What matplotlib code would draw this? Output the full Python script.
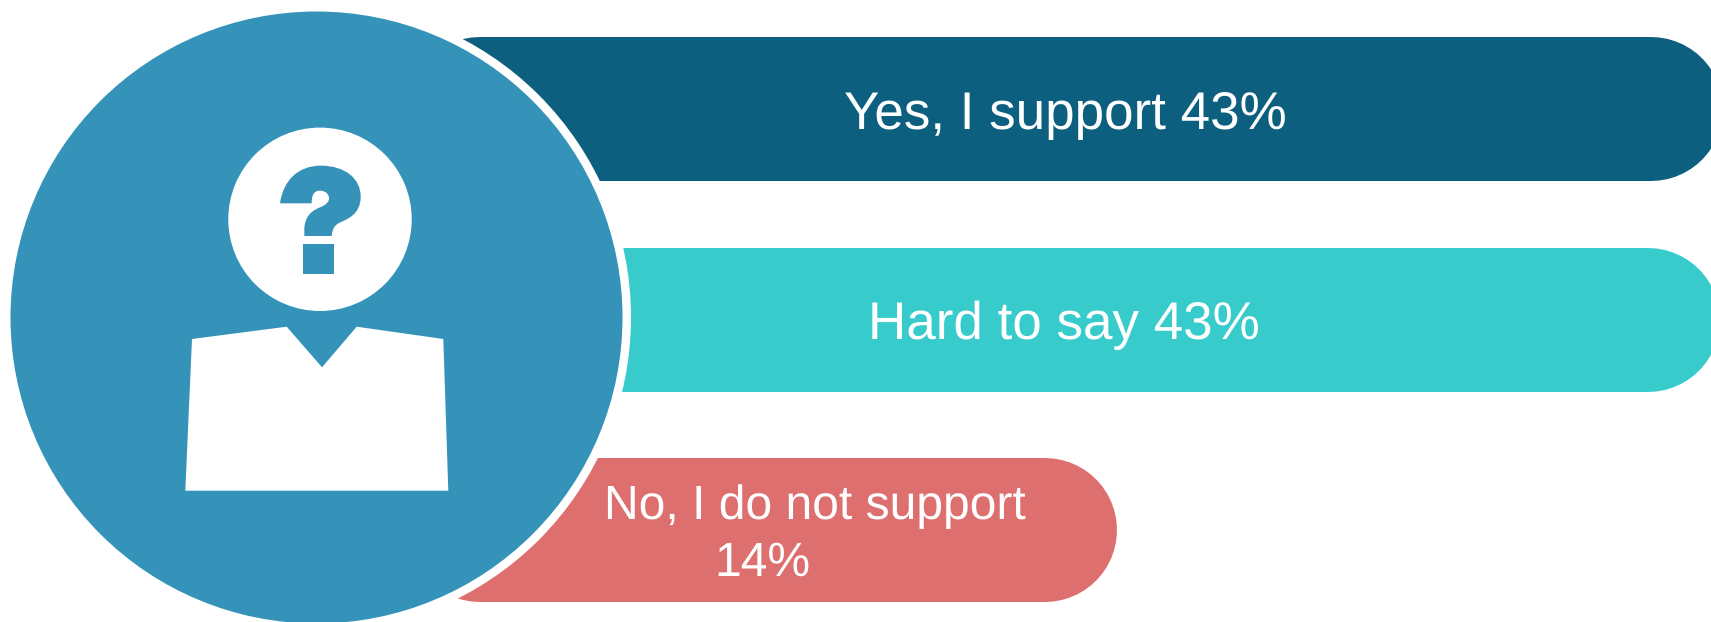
import matplotlib
matplotlib.use("Agg")
import matplotlib.pyplot as plt
from matplotlib.patches import Circle, Polygon, PathPatch, Rectangle
from matplotlib.path import Path

categories = ["Yes, I support", "Hard to say", "No, I do not support"]
shares = [43, 43, 14]
bar_colors = ["#0D5F80", "#38CBCC", "#DE6F6F"]

W, H = 1711, 622
DPI = 100
BADGE = "#3593BA"

# Percent axis: 0 % sits at pixel 824, one point spans 20.9 pixels.
PX_AT_ZERO = 824.0
PX_PER_POINT = 20.9
BAR_HEIGHT_PX = 144.0
BAR_START_PX = 408.0
bar_centres_px = [109, 320, 530]
bar_nudge_px = [0, -3, 0]


def to_share(px):
    return (px - PX_AT_ZERO) / PX_PER_POINT


plt.rcParams["font.family"] = ["Liberation Sans", "DejaVu Sans"]
plt.rcParams["text.hinting"] = "no_hinting"
plt.rcParams["text.hinting_factor"] = 1
fig = plt.figure(figsize=(W / DPI, H / DPI), dpi=DPI, facecolor="white")

# Bars live on a percent x axis; the rounded ends come from the line caps.
ax = fig.add_axes([0, 0, 1, 1])
ax.set_xlim(to_share(0), to_share(W))
ax.set_ylim(H, 0)
ax.axis("off")
radius_pts = BAR_HEIGHT_PX / 2
for value, colour, yc, nudge in zip(shares, bar_colors, bar_centres_px, bar_nudge_px):
    tip_inner = value + (nudge - radius_pts) / PX_PER_POINT
    ax.plot(
        [to_share(BAR_START_PX + radius_pts), tip_inner], [yc, yc],
        color=colour, lw=BAR_HEIGHT_PX * 72 / DPI,
        solid_capstyle="round", zorder=1,
    )

# Overlay in pixel coordinates for the badge and its figure.
ov = fig.add_axes([0, 0, 1, 1])
ov.set_xlim(0, W)
ov.set_ylim(H, 0)
ov.axis("off")
ov.patch.set_alpha(0)

ov.add_patch(Circle((316.5, 317.5), 314.5, fc="white", ec="none", zorder=2))
ov.add_patch(Circle((316.5, 317.5), 306, fc=BADGE, ec="none", zorder=3))

body = [(192, 339), (286.7, 326.7), (322, 367.3), (356.7, 326.7),
        (443.3, 339), (448.3, 490.7), (185.3, 490.7)]
ov.add_patch(Polygon(body, closed=True, fc="white", ec="none", zorder=4))
ov.add_patch(Circle((320, 219.3), 91.7, fc="white", ec="none", zorder=4))


def zoomed(x, y):
    return 150 + x / 3, 100 + y / 3


hook = [
    (Path.MOVETO, (390, 310)),
    (Path.CURVE4, (400, 240)), (Path.CURVE4, (445, 197)), (Path.CURVE4, (512, 197)),
    (Path.CURVE4, (585, 197)), (Path.CURVE4, (632, 235)), (Path.CURVE4, (632, 290)),
    (Path.CURVE4, (632, 345)), (Path.CURVE4, (590, 358)), (Path.CURVE4, (565, 370)),
    (Path.CURVE3, (547, 380)), (Path.CURVE3, (545, 408)),
    (Path.LINETO, (463, 408)),
    (Path.LINETO, (463, 385)),
    (Path.CURVE4, (465, 345)), (Path.CURVE4, (490, 330)), (Path.CURVE4, (510, 322)),
    (Path.CURVE4, (530, 314)), (Path.CURVE4, (538, 305)), (Path.CURVE4, (537, 293)),
    (Path.CURVE4, (535, 278)), (Path.CURVE4, (522, 272)), (Path.CURVE4, (510, 272)),
    (Path.CURVE4, (492, 272)), (Path.CURVE4, (485, 285)), (Path.CURVE4, (485, 310)),
    (Path.CLOSEPOLY, (390, 310)),
]
codes = [c for c, _ in hook]
verts = [zoomed(*p) for _, p in hook]
ov.add_patch(PathPatch(Path(verts, codes), fc=BADGE, ec="none", zorder=5))
dx, dy = zoomed(459, 433)
ov.add_patch(Rectangle((dx, dy), 93 / 3, 88 / 3, fc=BADGE, ec="none", zorder=5))

# Labels: the two upper bars carry a larger size than the lower one.
txt = dict(color="white", ha="center", va="baseline", zorder=6)
ov.text(1065.5, 129, f"{categories[0]} {shares[0]}%", fontsize=38.5, **txt)
ov.text(1064, 339, f"{categories[1]} {shares[1]}%", fontsize=38.5, **txt)
ov.text(815, 519, categories[2], fontsize=34.5, **txt)
ov.text(762, 576, f"{shares[2]}%", fontsize=34.5, **txt)

fig.savefig("out.png", dpi=DPI, facecolor="white")
